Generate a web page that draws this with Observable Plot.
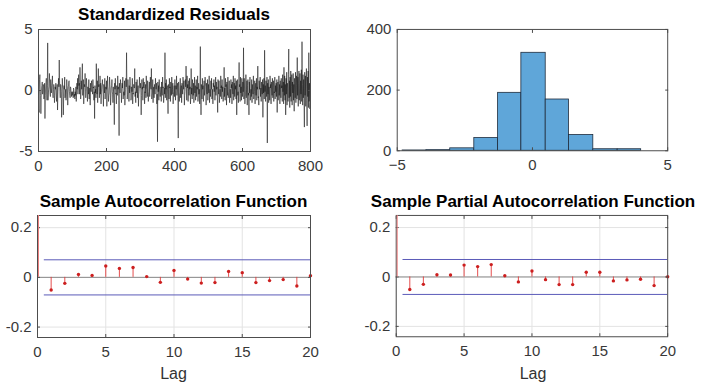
<!DOCTYPE html>
<html>
<head>
<meta charset="utf-8">
<script src="https://cdn.jsdelivr.net/npm/d3@7"></script>
<script src="https://cdn.jsdelivr.net/npm/@observablehq/plot@0.6"></script>
<style>
  html, body { margin: 0; padding: 0; background: #fff; }
  #root { position: relative; width: 702px; height: 387px; overflow: hidden; background: #fff;
          font-family: "Liberation Sans", Arial, Helvetica, sans-serif; }
  .panel { position: absolute; }
  .title { position: absolute; font-weight: bold; font-size: 17px; line-height: 17px; color: #000; white-space: nowrap;
           transform: translateX(-50%); }
  .xlab { position: absolute; font-size: 16px; line-height: 16px; color: #333; white-space: nowrap; transform: translateX(-50%); }
</style>
</head>
<body>
<div id="root"></div>
<script>
// ---------------- data ----------------
const residuals = [
-0.6,-1.5,-1.8,0.9,1.3,0.2,-0.4,-1.9,-0.6,0.2,0.4,0.7,-0.3,-0.1,0.5,0.3,-0.7,-0.2,0.6,-2.3,
-0.4,0.2,0.6,1.0,-0.3,-0.8,0.4,3.9,-0.8,-0.2,0.1,0.3,1.4,0.6,-0.2,-0.5,0.9,0.2,-0.2,0.4,
0.7,1.2,-0.3,-0.6,0.1,0.5,0.2,-1.0,-0.4,0.3,0.1,0.6,-0.2,-0.9,-0.2,0.5,-1.6,-0.3,0.4,1.0,
0.3,2.5,0.8,-0.1,-0.6,0.5,0.4,-0.1,-2.2,-0.6,1.0,0.3,0.2,-2.0,-0.5,0.4,0.1,1.1,-0.6,-0.2,
0.1,-0.8,-0.3,0.9,0.4,0.2,-1.2,-0.2,0.3,0.7,0.8,-0.1,-0.4,-0.6,0.3,0.2,-0.2,-0.5,-0.1,-0.4,
-0.3,-0.1,-0.6,0.2,0.1,-0.5,-0.3,-0.7,-0.1,-0.4,0.3,-0.9,-0.2,0.6,0.1,1.0,-0.3,0.2,1.3,0.4,
0.6,-0.3,1.9,0.5,-0.7,-0.2,0.8,0.1,1.2,2.2,-0.4,0.1,0.9,-1.1,-0.2,0.5,0.3,1.4,0.2,-0.6,
-0.1,1.0,0.4,-0.2,-0.9,0.3,0.1,-0.3,0.9,-0.7,-0.1,0.2,-1.2,0.6,0.2,-0.1,0.8,0.4,0.1,-0.3,
0.9,0.2,0.3,-0.8,-0.1,-2.3,0.4,-0.2,0.1,-0.6,2.2,0.5,-0.3,0.8,-1.0,0.2,1.8,0.3,0.5,-0.6,
-0.1,1.2,-0.3,0.6,-1.1,-0.2,0.4,0.5,0.9,0.1,-0.3,-1.3,0.5,0.2,-0.2,1.0,-0.7,-0.1,0.3,0.1,
0.8,-1.3,-0.2,1.2,0.3,0.1,-0.9,-0.4,-0.2,1.1,0.5,0.1,-1.2,-0.6,0.2,0.4,0.9,-0.1,-0.3,-1.0,
0.3,-0.2,-0.7,-2.8,0.6,0.1,1.0,-0.3,-0.2,-1.1,0.4,0.1,-0.4,1.2,0.1,0.3,-0.8,-3.7,0.6,0.2,
-0.2,0.9,0.5,0.3,-1.0,-0.1,0.6,0.2,1.1,-0.7,-0.2,-0.1,-0.4,0.8,-1.2,-0.4,0.1,1.0,0.3,3.1,
0.4,-0.7,-0.3,0.9,0.2,0.1,-0.9,0.4,-0.2,1.1,0.4,0.1,-0.8,-0.6,0.3,-0.1,1.0,-1.1,-0.2,-0.3,
0.5,0.3,0.2,1.8,-0.5,-0.1,-1.0,0.7,0.2,-0.2,0.9,-0.6,-0.1,0.4,-1.3,-0.3,-0.1,1.1,0.4,0.2,
0.6,-0.2,-2.0,-0.4,0.9,0.1,0.3,-0.8,1.0,0.3,0.2,0.7,-1.1,-0.1,-0.2,0.5,-0.6,1.2,0.2,0.1,
-0.5,0.8,0.2,-0.9,-0.3,-0.1,0.7,-0.5,0.2,1.1,0.3,0.1,1.8,-0.7,-0.4,-0.2,0.9,-1.0,0.1,0.3,
-0.6,0.5,0.2,-0.3,1.0,0.4,0.1,0.6,-1.1,-0.3,-4.2,0.7,-0.1,0.4,-0.8,0.9,0.1,-0.3,-0.5,-0.2,
0.3,-0.9,0.7,0.1,-0.4,1.1,0.2,0.3,-1.0,-0.5,0.2,-0.3,3.1,-0.6,0.6,0.1,0.9,-0.8,0.2,0.4,
-0.3,-1.9,0.5,0.1,-0.7,1.0,0.2,0.3,-0.9,0.7,-0.2,-0.4,1.1,-0.3,0.1,0.6,-1.1,-0.3,-0.1,0.4,
-0.5,0.9,0.2,-0.8,0.4,0.1,1.2,-0.4,0.1,0.6,-0.5,-3.9,0.7,0.3,-0.9,-0.4,-0.2,1.0,-0.6,0.1,
0.4,-1.0,0.6,0.2,-0.3,1.1,0.5,0.1,0.8,-1.2,-0.4,-0.1,0.9,0.3,2.0,0.3,-0.8,1.2,0.2,0.5,
-0.9,-0.1,0.8,-0.4,1.0,0.1,0.3,-1.1,-0.5,1.8,-0.3,0.2,-0.7,0.9,0.2,-0.4,0.6,-1.0,-0.3,1.1,
-0.2,0.4,-0.8,-0.1,0.9,-0.5,0.3,0.1,1.2,-0.9,-0.4,0.6,-0.3,0.1,-1.1,0.7,3.6,-0.2,-2.0,0.5,
0.2,-0.7,1.0,0.1,0.4,-0.9,-0.3,0.8,-0.4,0.1,1.1,0.6,0.3,-1.2,0.6,-0.1,-0.3,0.9,-0.8,-0.2,
0.5,-0.2,1.2,-1.0,-0.3,0.1,-0.5,0.8,0.1,1.0,-0.7,-0.4,0.1,-1.1,0.6,0.3,0.9,-0.1,0.4,-0.8,
0.2,1.1,-0.4,0.7,0.1,0.3,-0.6,-1.8,0.9,-0.1,-0.3,0.8,-1.0,-0.5,0.1,-0.5,1.2,0.2,0.4,-0.7,
0.9,-0.1,0.3,-0.9,-0.6,0.1,1.9,-0.5,0.2,-0.8,1.0,0.3,0.5,-1.2,0.7,0.1,-0.4,1.1,-0.6,-0.3,
-0.1,0.8,-1.0,-0.4,0.1,-0.6,0.9,0.2,0.5,-1.1,0.7,-0.1,-0.3,1.2,-0.8,-0.2,0.6,-0.5,1.0,0.1,
0.4,-0.7,0.8,-2.0,0.3,0.9,-0.4,-0.1,-1.0,0.6,2.3,0.3,0.5,-0.9,1.1,-0.2,0.3,-0.8,1.0,0.1,
-0.5,0.7,-0.1,3.5,-0.7,1.0,0.2,-1.1,-0.5,-0.3,1.3,-0.6,0.1,0.8,-1.2,0.4,0.9,-0.4,-0.2,-2.0,
0.7,-0.2,1.1,-0.8,-0.3,0.1,-0.5,0.9,-1.0,0.5,0.1,-0.3,1.2,-0.7,-0.4,-0.1,0.8,-1.1,0.2,0.6,
-0.4,1.0,-0.8,0.3,0.1,2.0,-0.6,-0.5,-1.2,0.8,0.1,0.4,1.1,-0.5,0.2,-0.9,0.7,0.1,-0.3,0.9,
-2.2,0.5,-0.2,1.0,-0.7,3.3,-0.1,0.4,-0.9,0.8,0.2,-0.5,1.1,-4.3,0.6,-0.3,0.9,-1.0,0.3,0.1,
-0.8,1.2,0.2,0.5,-1.1,0.7,0.1,-0.4,1.0,-0.6,-0.3,0.8,-0.9,-0.1,-0.2,1.1,-0.7,0.4,-0.1,0.6,
-0.5,0.9,-1.8,0.3,0.7,-0.8,-0.2,1.2,-0.4,0.5,-1.1,0.8,0.1,-0.6,1.0,0.2,0.4,-0.9,1.3,-0.1,
0.7,-1.1,1.9,-0.4,1.2,-0.8,0.5,-2.0,1.0,-0.3,1.5,-1.2,0.6,0.2,-0.9,1.3,3.4,-0.6,0.8,-1.4,
1.1,-0.5,1.6,-0.9,0.3,1.3,-1.2,0.7,-0.2,1.4,-0.8,0.5,-1.7,1.0,0.2,-0.6,1.5,-1.0,0.4,1.2,
-0.7,2.7,-0.4,1.1,-1.3,0.6,1.6,-0.8,0.2,1.4,-1.1,0.8,-0.3,1.7,-0.9,4.0,0.5,-1.2,1.3,-0.6,
0.9,-1.0,-3.0,1.5,-0.4,1.2,-1.3,0.7,1.8,-0.8,-2.9,1.1,-0.5,1.6,-1.4,3.1,-0.9,0.6,-1.5,-1.0
];

const histEdges  = [-4.80, -3.92, -3.04, -2.15, -1.27, -0.41, 0.49, 1.35, 2.25, 3.15, 4.02];
const histCounts = [1, 2, 8, 42, 191, 323, 169, 52, 5, 5];

const lags = [0,1,2,3,4,5,6,7,8,9,10,11,12,13,14,15,16,17,18,19,20];
const acfValues  = [1, -0.051,-0.024,0.012,0.008,0.046,0.036,0.040,0.003,-0.020,0.028,
                    -0.007,-0.023,-0.021,0.024,0.019,-0.021,-0.013,-0.009,-0.035,0.007];
const pacfValues = [1, -0.051,-0.030,0.009,0.008,0.048,0.042,0.050,0.005,-0.020,0.024,
                    -0.011,-0.031,-0.031,0.019,0.019,-0.016,-0.012,-0.009,-0.035,0.001];
const confBound = 0.0707;

const titles = ["Standardized Residuals", "", "Sample Autocorrelation Function", "Sample Partial Autocorrelation Function"];
const xLabel = "Lag";
const tsXTicks = [0, 200, 400, 600, 800];
const tsYTicks = [-5, 0, 5];
const histXTicks = [-5, 0, 5];
const histYTicks = [0, 200, 400];
const corrXTicks = [0, 5, 10, 15, 20];
const corrYTicks = [-0.2, 0, 0.2];

// ---------------- layout ----------------
const root = document.getElementById("root");
const FONT = '"Liberation Sans", Arial, Helvetica, sans-serif';
const AX = "#4d4d4d";
const ML = 50, MT = 10, MR = 35, MB = 40;

function axes(xt, yt, fmtY) {
  return [
    Plot.frame({stroke: AX, strokeWidth: 1}),
    Plot.axisX(xt, {anchor: "bottom", tickSize: -3, tickPadding: 12, stroke: AX, label: null, fill: "#383838"}),
    Plot.axisX(xt, {anchor: "top", tickSize: -3, text: null, stroke: AX, label: null}),
    Plot.axisY(yt, {anchor: "left", tickSize: -3, tickPadding: 9, stroke: AX, label: null, fill: "#383838", tickFormat: fmtY}),
    Plot.axisY(yt, {anchor: "right", tickSize: -3, text: null, stroke: AX, label: null})
  ];
}

function place(svg, left, top) {
  const d = document.createElement("div");
  d.className = "panel";
  d.style.left = (left - ML) + "px";
  d.style.top = (top - MT) + "px";
  d.appendChild(svg);
  root.appendChild(d);
}

function panel(rect, opts, marks) {
  const [left, top, w, h] = rect;
  const svg = Plot.plot({
    width: ML + w + MR, height: MT + h + MB,
    marginLeft: ML, marginTop: MT, marginRight: MR, marginBottom: MB,
    style: {fontSize: "15px", fontFamily: FONT, background: "transparent", color: "#383838", overflow: "visible"},
    ...opts,
    marks
  });
  place(svg, left, top);
}

function addText(cls, text, cx, top) {
  const t = document.createElement("div");
  t.className = cls;
  t.textContent = text;
  t.style.left = cx + "px";
  t.style.top = top + "px";
  root.appendChild(t);
}

const fmtNum = d => (d < 0 ? "-" : "") + Math.abs(d);

// Top-left: residual series
const resRows = residuals.map((v, i) => ({i, v}));
panel([38, 29, 272, 122], {
  x: {domain: [0, 800]}, y: {domain: [-5, 5]}
}, [
  Plot.line(resRows, {x: "i", y: "v", stroke: "#111", strokeWidth: 0.55}),
  ...axes(tsXTicks, tsYTicks, fmtNum)
]);

// Top-right: histogram
const bins = histCounts.map((c, k) => ({x1: histEdges[k], x2: histEdges[k + 1], c}));
panel([397, 29, 272, 122], {
  x: {domain: [-5, 5]}, y: {domain: [0, 400]}
}, [
  Plot.rectY(bins, {x1: "x1", x2: "x2", y: "c", fill: "#5fa6d9", stroke: "#1e2b3c", strokeWidth: 0.8}),
  ...axes(histXTicks, histYTicks, fmtNum)
]);

// Bottom: ACF / PACF
function corrPanel(rect, values) {
  const rows = lags.map((l, k) => ({lag: l, v: values[k]}));
  panel(rect, {
    x: {domain: [0, 20]}, y: {domain: [-0.242, 0.249]}
  }, [
    Plot.ruleX(corrXTicks, {stroke: "#e3e3e3"}),
    Plot.ruleY(corrYTicks, {stroke: "#e3e3e3"}),
    Plot.ruleY([0], {stroke: "#8c8c8c", strokeWidth: 1}),
    Plot.ruleY([confBound, -confBound], {x1: 0.5, x2: 20, stroke: "#5a5ab8", strokeWidth: 1}),
    Plot.ruleX(rows.filter(d => d.lag > 0), {x: "lag", y1: 0, y2: "v", stroke: "#e23a3a", strokeWidth: 0.9}),
    Plot.dot(rows.filter(d => d.lag > 0), {x: "lag", y: "v", r: 1.7, fill: "#cc1f1f", stroke: "none"}),
    ...axes(corrXTicks, corrYTicks, fmtNum),
    Plot.ruleX(rows.filter(d => d.lag === 0), {x: "lag", y1: 0, y2: "v", dx: 1, stroke: "#ec8080", strokeWidth: 1, clip: true})
  ]);
}
corrPanel([37, 215, 273, 122], acfValues);
corrPanel([396, 215, 273, 122], pacfValues);

// Titles & labels
addText("title", titles[0], 174, 6.3);
addText("title", titles[2], 173.5, 192.8);
addText("title", titles[3], 533, 192.8);
addText("xlab", xLabel, 173.5, 365.5);
addText("xlab", xLabel, 533, 365.5);
</script>
</body>
</html>
